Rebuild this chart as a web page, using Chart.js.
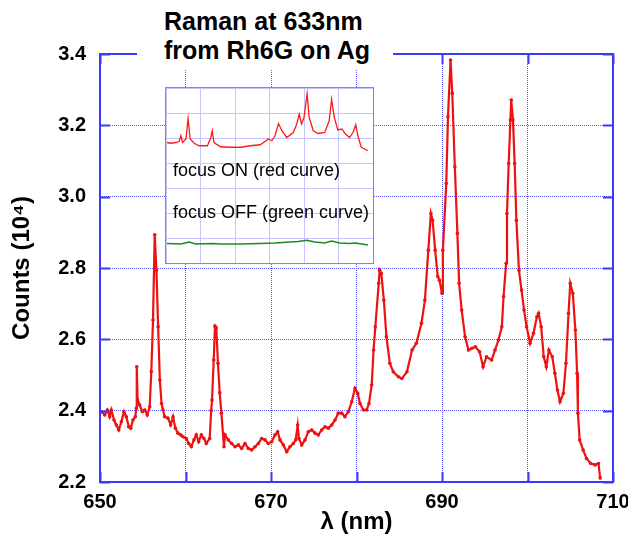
<!DOCTYPE html>
<html>
<head>
<meta charset="utf-8">
<script src="https://cdn.jsdelivr.net/npm/chart.js@4.4.1/dist/chart.umd.min.js"></script>
<style>
  body { margin: 0; background: #fff; font-family: "Liberation Sans", Arial, sans-serif; }
  #wrap { position: relative; width: 628px; height: 537px; }
  #titleBox { position: absolute; left: 137px; top: 0; width: 256px; height: 70px; background: #fff;
    box-sizing: border-box; padding: 7px 0 0 27px; font-weight: bold; font-size: 25px; line-height: 29px; color: #000; }
  #inset { position: absolute; left: 165px; top: 87px; width: 207px; height: 175px; border: 1px solid #8080f0; background: #fff; }
  .note { position: absolute; left: 7px; font-size: 18px; line-height: 20px; color: #000; white-space: nowrap; }
</style>
</head>
<body>
<div id="wrap">
  <canvas id="main" width="628" height="537"></canvas>
  <div id="titleBox">Raman at 633nm<br>from Rh6G on Ag</div>
  <div id="inset">
    <canvas id="small" width="207" height="175"></canvas>
    <div class="note" style="top:72px">focus ON (red curve)</div>
    <div class="note" style="top:114px">focus OFF (green curve)</div>
  </div>
</div>
<script>
// main spectrum
const lambda = [650.2, 650.55, 650.86, 651.13, 651.33, 651.64, 651.91, 652.19, 652.5, 652.8, 653.08, 653.36, 653.59, 653.86, 654.13, 654.25, 654.3, 654.4, 654.64, 654.95, 655.23, 655.53, 655.81, 656.0, 656.2, 656.4, 656.6, 656.8, 657.0, 657.2, 657.37, 657.56, 657.95, 658.27, 658.54, 658.81, 659.12, 659.44, 659.71, 660.1, 660.37, 660.68, 660.99, 661.26, 661.54, 661.85, 662.16, 662.43, 662.83, 663.0, 663.1, 663.3, 663.45, 663.6, 663.8, 664.0, 664.2, 664.5, 664.62, 665.0, 665.4, 665.79, 666.18, 666.57, 666.96, 667.35, 667.74, 668.13, 668.52, 668.91, 669.3, 669.68, 670.08, 670.47, 670.78, 671.05, 671.44, 671.84, 672.22, 672.61, 672.89, 673.12, 673.27, 673.59, 673.98, 674.36, 674.76, 675.15, 675.53, 675.93, 676.32, 676.7, 677.1, 677.49, 677.87, 678.27, 678.65, 679.04, 679.44, 679.82, 680.14, 680.41, 680.8, 681.19, 681.46, 681.78, 682.0, 682.2, 682.6, 682.7, 682.9, 683.2, 683.5, 683.9, 684.3, 684.9, 685.3, 685.9, 686.5, 687.0, 687.6, 688.0, 688.4, 688.7, 688.9, 689.2, 689.5, 689.7, 690.0, 690.1, 690.5, 690.7, 691.0, 691.2, 691.5, 691.8, 692.0, 692.3, 692.7, 693.1, 693.5, 693.9, 694.4, 694.8, 695.2, 695.8, 696.2, 696.6, 697.0, 697.2, 697.5, 697.6, 697.8, 698.0, 698.1, 698.3, 698.5, 698.7, 699.0, 699.3, 699.6, 699.9, 700.3, 700.7, 701.1, 701.3, 701.6, 701.9, 702.2, 702.5, 702.9, 703.2, 703.5, 703.8, 704.2, 704.5, 704.8, 705.0, 705.3, 705.6, 705.8, 705.9, 706.1, 706.5, 706.9, 707.4, 707.9, 708.3, 708.5];
const counts = [2.397, 2.388, 2.402, 2.383, 2.402, 2.374, 2.360, 2.346, 2.369, 2.397, 2.383, 2.355, 2.351, 2.374, 2.383, 2.407, 2.523, 2.430, 2.416, 2.397, 2.402, 2.388, 2.411, 2.510, 2.654, 2.893, 2.794, 2.635, 2.486, 2.420, 2.402, 2.383, 2.379, 2.360, 2.383, 2.351, 2.337, 2.332, 2.327, 2.322, 2.308, 2.299, 2.318, 2.332, 2.313, 2.332, 2.322, 2.308, 2.322, 2.400, 2.430, 2.542, 2.637, 2.632, 2.533, 2.450, 2.393, 2.299, 2.332, 2.318, 2.308, 2.299, 2.304, 2.294, 2.308, 2.294, 2.290, 2.299, 2.308, 2.322, 2.318, 2.308, 2.313, 2.332, 2.341, 2.318, 2.304, 2.285, 2.299, 2.308, 2.318, 2.360, 2.322, 2.304, 2.318, 2.341, 2.346, 2.337, 2.332, 2.346, 2.355, 2.351, 2.360, 2.374, 2.393, 2.393, 2.383, 2.397, 2.425, 2.463, 2.449, 2.420, 2.402, 2.402, 2.420, 2.472, 2.570, 2.635, 2.757, 2.794, 2.785, 2.710, 2.607, 2.533, 2.509, 2.495, 2.490, 2.509, 2.570, 2.589, 2.645, 2.710, 2.850, 2.953, 2.934, 2.850, 2.776, 2.766, 2.729, 2.850, 3.037, 3.224, 3.383, 3.290, 3.084, 2.897, 2.757, 2.682, 2.607, 2.570, 2.575, 2.579, 2.565, 2.523, 2.551, 2.542, 2.570, 2.598, 2.635, 2.720, 2.813, 2.953, 3.093, 3.215, 3.271, 3.215, 3.093, 2.934, 2.794, 2.738, 2.682, 2.635, 2.589, 2.617, 2.663, 2.673, 2.635, 2.551, 2.523, 2.570, 2.551, 2.505, 2.458, 2.425, 2.449, 2.533, 2.673, 2.757, 2.729, 2.626, 2.505, 2.393, 2.318, 2.290, 2.266, 2.252, 2.248, 2.252, 2.211];

// inset curves (arbitrary units, 0..7)
const onLambda = [650.3, 651.4, 652.9, 653.8, 654.3, 654.8, 655.8, 656.4, 657.0, 658.2, 659.6, 662.0, 663.0, 663.4, 663.9, 665.8, 668.7, 671.6, 674.5, 677.3, 679.7, 680.7, 681.6, 682.6, 683.6, 685.0, 686.9, 687.9, 688.6, 689.3, 690.0, 690.9, 691.5, 692.7, 694.1, 696.0, 697.3, 698.0, 698.8, 699.8, 701.0, 702.0, 703.2, 704.2, 705.0, 705.6, 706.6, 708.5];
const onCounts = [4.82, 4.79, 4.82, 4.86, 5.09, 4.82, 4.96, 5.78, 4.96, 4.79, 4.69, 4.69, 5.02, 5.29, 4.82, 4.65, 4.63, 4.63, 4.69, 4.73, 4.96, 4.89, 5.09, 5.58, 5.29, 5.02, 5.22, 5.56, 5.95, 5.56, 5.82, 6.77, 5.82, 5.29, 5.18, 5.22, 5.69, 6.55, 5.82, 5.32, 5.36, 5.16, 5.02, 5.22, 5.53, 5.09, 4.63, 4.49];
const offLambda = [650.3, 654.3, 656.7, 658.6, 663.5, 665.8, 671.6, 677.3, 681.6, 685.9, 688.3, 690.8, 693.1, 696.0, 698.0, 700.3, 703.2, 705.0, 708.5];
const offCounts = [0.78, 0.76, 0.84, 0.76, 0.78, 0.76, 0.76, 0.78, 0.80, 0.84, 0.86, 0.91, 0.84, 0.80, 0.88, 0.80, 0.78, 0.80, 0.72];

const xTicksShown = [650, 670, 690, 710];

const pts = (xs, ys) => xs.map((x, i) => ({ x: x, y: ys[i] }));
const FONT = '"Liberation Sans", Arial, sans-serif';
const AXIS = '#3a3aff';
const GRID = '#5a5aff';

// solid frame on all sides plus short inward ticks
const framePlugin = {
    id: 'frame',
    afterDatasetsDraw(chart) {
        const { ctx, chartArea: a, scales } = chart;
        ctx.save();
        ctx.strokeStyle = AXIS;
        ctx.lineWidth = 2;
        ctx.strokeRect(a.left, a.top, a.right - a.left, a.bottom - a.top);
        ctx.beginPath();
        scales.y.ticks.forEach(t => {
            const y = Math.round(scales.y.getPixelForValue(t.value)) + 0.5;
            ctx.moveTo(a.left, y); ctx.lineTo(a.left + 10, y);
            ctx.moveTo(a.right - 10, y); ctx.lineTo(a.right, y);
        });
        scales.x.ticks.forEach(t => {
            const x = Math.round(scales.x.getPixelForValue(t.value)) + 0.5;
            ctx.moveTo(x, a.bottom); ctx.lineTo(x, a.bottom - 10);
            ctx.moveTo(x, a.top); ctx.lineTo(x, a.top + 10);
        });
        ctx.stroke();
        ctx.restore();
    }
};

new Chart(document.getElementById('main'), {
    type: 'line',
    data: {
        datasets: [{
            data: pts(lambda, counts),
            borderColor: '#ee1111',
            backgroundColor: '#ee1111',
            borderWidth: 2.2,
            pointRadius: 1.8,
            pointBorderWidth: 0,
            tension: 0
        }]
    },
    options: {
        responsive: false,
        devicePixelRatio: 1,
        animation: false,
        layout: { padding: { top: 54, right: 15, left: 0, bottom: 0 } },
        plugins: { legend: { display: false }, tooltip: { enabled: false } },
        scales: {
            x: {
                type: 'linear', min: 650, max: 710,
                afterFit: s => { s.height = 55; s.paddingLeft = 0; s.paddingRight = 0; },
                ticks: {
                    stepSize: 10, autoSkip: false, maxRotation: 0, padding: 8, color: '#000',
                    font: { family: FONT, size: 20, weight: 'bold' },
                    callback: v => xTicksShown.includes(v) ? String(v) : ''
                },
                grid: { color: GRID, drawTicks: false },
                border: { display: false, dash: [1, 1] },
                title: { display: true, text: 'λ (nm)', color: '#000', padding: { top: 0, bottom: 0 },
                    font: { family: FONT, size: 24, weight: 'bold' } }
            },
            y: {
                min: 2.2, max: 3.4,
                afterFit: s => { s.width = 100; s.paddingTop = 0; s.paddingBottom = 0; },
                ticks: {
                    stepSize: 0.2, padding: 14, color: '#000',
                    font: { family: FONT, size: 20, weight: 'bold' },
                    callback: v => v.toFixed(1)
                },
                grid: { color: GRID, drawTicks: false },
                border: { display: false, dash: [1, 1] },
                title: { display: true, text: 'Counts (10⁴)', color: '#000', padding: { top: 8, bottom: 0 },
                    font: { family: FONT, size: 24, weight: 'bold' } }
            }
        }
    },
    plugins: [framePlugin]
});

new Chart(document.getElementById('small'), {
    type: 'line',
    data: {
        datasets: [
            { data: pts(onLambda, onCounts), borderColor: '#ff1a1a', borderWidth: 1.3, pointRadius: 0, tension: 0 },
            { data: pts(offLambda, offCounts), borderColor: '#1a8a1a', borderWidth: 1.5, pointRadius: 0, tension: 0 }
        ]
    },
    options: {
        responsive: false,
        devicePixelRatio: 1,
        animation: false,
        layout: { padding: 0 },
        plugins: { legend: { display: false }, tooltip: { enabled: false } },
        scales: {
            x: {
                type: 'linear', min: 650, max: 710,
                ticks: { display: false, stepSize: 10 },
                grid: { color: '#c4c4ff', drawTicks: false },
                border: { display: false }
            },
            y: {
                min: 0, max: 7,
                ticks: { display: false, stepSize: 1 },
                grid: { color: '#c4c4ff', drawTicks: false },
                border: { display: false }
            }
        }
    }
});
</script>
</body>
</html>
